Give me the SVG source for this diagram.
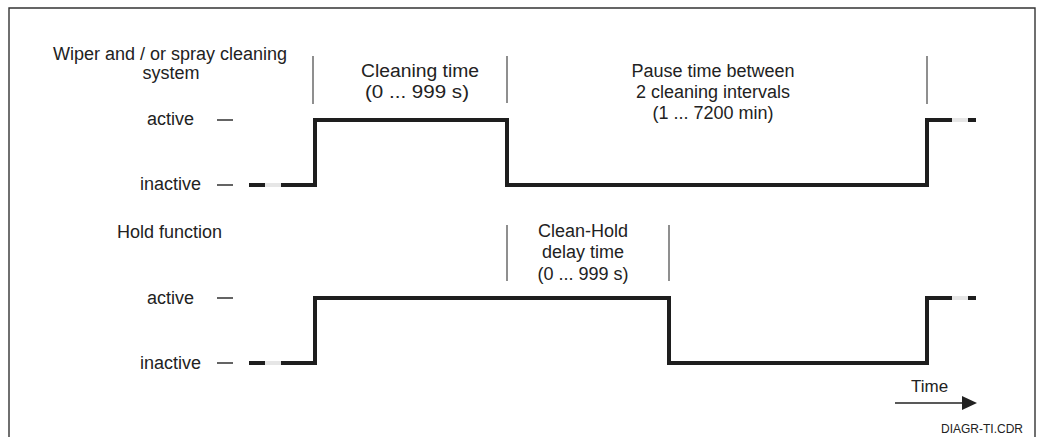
<svg xmlns="http://www.w3.org/2000/svg" width="1037" height="437" viewBox="0 0 1037 437">
<style>
text{font-family:"Liberation Sans",Arial,sans-serif;font-size:18px;fill:#222}
.c{text-anchor:middle}
.frame{fill:none;stroke:#333;stroke-width:1.4}
.sep{stroke:#333;stroke-width:1.1}
.tick{stroke:#222;stroke-width:1.4}
.sig{fill:none;stroke:#1e1e1e;stroke-width:4;stroke-linejoin:miter;stroke-linecap:butt}
.faint{stroke:#e6e6e6;stroke-width:4}
</style>
<rect width="1037" height="437" fill="#fff"/>
<path class="frame" d="M9,437 V8 H1035 V437"/>

<g id="wiper-labels">
<text class="c" x="170" y="60">Wiper and / or spray cleaning</text>
<text class="c" x="171" y="79">system</text>
<text x="147" y="125">active</text>
<text x="140" y="190">inactive</text>
<line class="tick" x1="217" y1="120" x2="233" y2="120"/>
<line class="tick" x1="217" y1="185" x2="233" y2="185"/>
</g>

<g id="cleaning-time">
<text class="c" x="420" y="77" textLength="118" lengthAdjust="spacingAndGlyphs">Cleaning time</text>
<text class="c" x="417" y="98" textLength="104" lengthAdjust="spacingAndGlyphs">(0 ... 999 s)</text>
</g>
<g id="pause-time">
<text class="c" x="713" y="77">Pause time between</text>
<text class="c" x="713" y="98">2 cleaning intervals</text>
<text class="c" x="713" y="119">(1 ... 7200 min)</text>
</g>

<g id="hold-labels">
<text x="117" y="238">Hold function</text>
<text x="147" y="304">active</text>
<text x="140" y="369">inactive</text>
<line class="tick" x1="217" y1="298" x2="233" y2="298"/>
<line class="tick" x1="217" y1="363" x2="233" y2="363"/>
</g>

<g id="clean-hold-delay">
<text class="c" x="583" y="237">Clean-Hold</text>
<text class="c" x="583" y="258">delay time</text>
<text class="c" x="583" y="280">(0 ... 999 s)</text>
</g>

<g id="separators">
<line class="sep" x1="313" y1="56" x2="313" y2="104"/>
<line class="sep" x1="507" y1="56" x2="507" y2="103"/>
<line class="sep" x1="927" y1="56" x2="927" y2="104"/>
<line class="sep" x1="507" y1="225" x2="507" y2="281"/>
<line class="sep" x1="669" y1="225" x2="669" y2="281"/>
</g>

<g id="connectors">
<g id="wiper-signal">
<line x1="249" y1="185" x2="265" y2="185" stroke="#1e1e1e" stroke-width="4"/>
<line class="faint" x1="265" y1="185" x2="281" y2="185"/>
<path class="sig" d="M281,185 H315 V120 H507 V185 H927 V120 H952"/>
<line class="faint" x1="952" y1="120" x2="968" y2="120"/>
<line x1="968" y1="120" x2="976" y2="120" stroke="#1e1e1e" stroke-width="4"/>
</g>
<g id="hold-signal">
<line x1="249" y1="363" x2="265" y2="363" stroke="#1e1e1e" stroke-width="4"/>
<line class="faint" x1="265" y1="363" x2="281" y2="363"/>
<path class="sig" d="M281,363 H315 V298 H669 V363 H927 V298 H952"/>
<line class="faint" x1="952" y1="298" x2="968" y2="298"/>
<line x1="968" y1="298" x2="976" y2="298" stroke="#1e1e1e" stroke-width="4"/>
</g>
<g id="time-arrow">
<line x1="895" y1="403" x2="963" y2="403" stroke="#222" stroke-width="1.4"/>
<polygon points="962,396 977,403 962,410" fill="#222"/>
</g>
</g>

<g id="time-label">
<text x="911" y="392" style="font-size:17px">Time</text>
</g>
<g id="file-label">
<text x="1023" y="433" style="font-size:12px;text-anchor:end">DIAGR-TI.CDR</text>
</g>
</svg>
